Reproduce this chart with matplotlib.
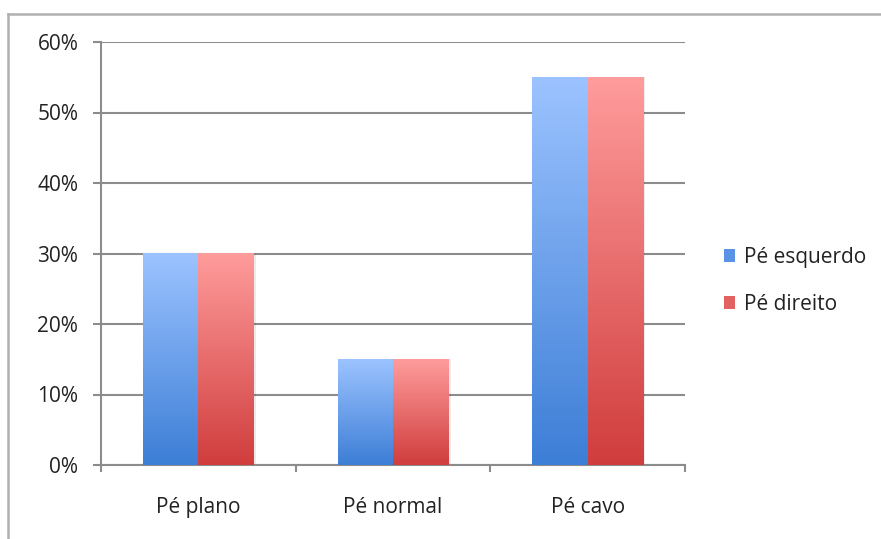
import matplotlib
matplotlib.use("Agg")
import matplotlib.pyplot as plt
import numpy as np
from matplotlib.colors import LinearSegmentedColormap
from matplotlib.patches import Patch
from matplotlib.lines import Line2D
from matplotlib.ticker import FuncFormatter, FixedLocator

categories = ["Pé plano", "Pé normal", "Pé cavo"]
series_names = ["Pé esquerdo", "Pé direito"]
pe_esquerdo = [30, 15, 55]
pe_direito = [30, 15, 55]
y_ticks = [0, 10, 20, 30, 40, 50, 60]

plt.rcParams['font.family'] = ['Open Sans', 'DejaVu Sans']

fig = plt.figure(figsize=(8.81, 5.39), dpi=100)
ax = fig.add_axes([101/881, 1-465/539, (685-101)/881, (465-42)/539])

blue_cmap = LinearSegmentedColormap.from_list("b", ["#3d7ed6", "#9cc3ff"])
red_cmap = LinearSegmentedColormap.from_list("r", ["#d03d3d", "#ff9c9c"])

w = 0.285
x = np.arange(len(categories))
grad = np.linspace(0, 1, 256).reshape(-1, 1)

for vals, offset, cmap, face in [(pe_esquerdo, -w/2, blue_cmap, "#6a9fe8"),
                                 (pe_direito, w/2, red_cmap, "#e86a6a")]:
    bars = ax.bar(x + offset, vals, width=w, color=face, zorder=3, linewidth=0)
    for b in bars:
        x0, y0 = b.get_x(), b.get_y()
        bw, bh = b.get_width(), b.get_height()
        ax.add_patch(plt.Rectangle((x0 + 0.012, y0), bw, bh, color="#000000",
                                   alpha=0.08, zorder=2, linewidth=0))
        ax.imshow(grad, cmap=cmap, origin="lower", aspect="auto",
                  extent=(x0, x0 + bw, y0, y0 + bh), zorder=4, interpolation="bilinear")

ax.set_xlim(-0.5, 2.5)
ax.set_ylim(0, 60)
ax.set_yticks(y_ticks)
ax.yaxis.set_major_formatter(FuncFormatter(lambda v, p: f"{int(v)}%"))
ax.grid(axis="y", color="#8c8c8c", linewidth=1.5, zorder=1)
ax.set_axisbelow(True)

ax.set_xticks(x)
ax.set_xticklabels(categories)
ax.xaxis.set_minor_locator(FixedLocator([-0.5, 0.5, 1.5, 2.5]))
ax.tick_params(axis="x", which="major", length=0, pad=23, labelsize=15, colors="#222222")
ax.tick_params(axis="x", which="minor", length=5, width=1.5, color="#8c8c8c")
ax.tick_params(axis="y", length=5.8, width=1.5, color="#8c8c8c", pad=10.5, labelsize=15,
               labelcolor="#222222")

for s in ["top", "right"]:
    ax.spines[s].set_visible(False)
for s in ["left", "bottom"]:
    ax.spines[s].set_color("#8c8c8c")
    ax.spines[s].set_linewidth(1.5)

handles = [Patch(facecolor="#5a93e6", edgecolor="none"),
           Patch(facecolor="#e26262", edgecolor="none")]
fig.legend(handles, series_names, loc="center left",
           bbox_to_anchor=(705/881, 1-281/539), frameon=False, fontsize=15,
           handlelength=0.55, handleheight=0.55, handletextpad=0.4,
           labelspacing=1.25, labelcolor="#222222")

fig.add_artist(Line2D([8/881, 1], [1-14/539, 1-14/539], color="#b0b0b0", linewidth=1.8,
                      transform=fig.transFigure))
fig.add_artist(Line2D([8/881, 8/881], [0, 1-14/539], color="#b0b0b0", linewidth=1.8,
                      transform=fig.transFigure))

fig.savefig("out.png", dpi=100)
